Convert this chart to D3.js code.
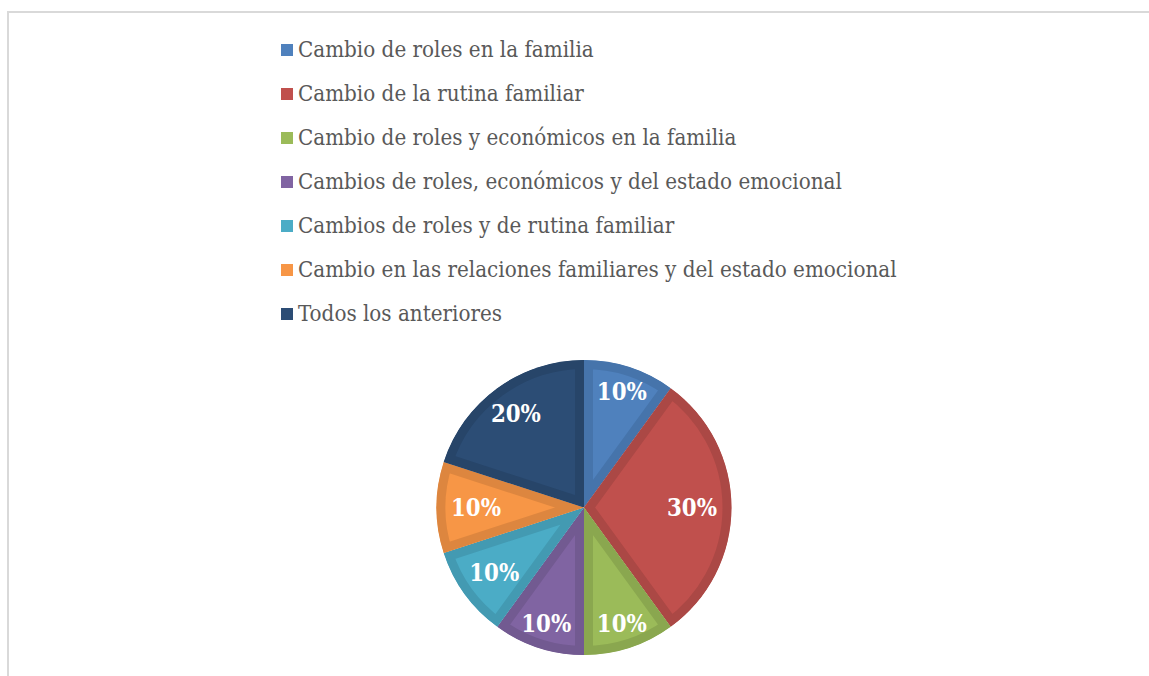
<!DOCTYPE html>
<html><head><meta charset="utf-8">
<script src="https://cdn.jsdelivr.net/npm/d3@7"></script>
<style>body{margin:0;background:#fff}svg{display:block}</style>
</head><body>
<svg id="c" width="1149" height="676"></svg>
<script>
const categories = [
  "Cambio de roles en la familia",
  "Cambio de la rutina familiar",
  "Cambio de roles y económicos en la familia",
  "Cambios de roles, económicos y del estado emocional",
  "Cambios de roles y de rutina familiar",
  "Cambio en las relaciones familiares y del estado emocional",
  "Todos los anteriores"
];
const values = [10, 30, 10, 10, 10, 10, 20];
const valueLabels = ["10%", "30%", "10%", "10%", "10%", "10%", "20%"];
const fillColors = ["#4f81bd", "#c0504d", "#9bbb59", "#8064a2", "#4bacc6", "#f79646", "#2c4d75"];
const bandColors = ["#4674ab", "#ab4845", "#8aa74f", "#725a91", "#439ab2", "#dd863f", "#274569"];

const svg = d3.select("#c");
const W = 1149, H = 676;

// outer frame
svg.append("line").attr("x1", 8).attr("y1", 12).attr("x2", W).attr("y2", 12)
  .attr("stroke", "#d9d9d9").attr("stroke-width", 2);
svg.append("line").attr("x1", 8).attr("y1", 11).attr("x2", 8).attr("y2", H)
  .attr("stroke", "#d9d9d9").attr("stroke-width", 2);

const serif = "'DejaVu Serif Condensed', 'DejaVu Serif', 'Liberation Serif', serif";

// legend
const legX = 281, legY0 = 50, legStep = 44;
const legend = svg.append("g");
const probe = svg.append("text").attr("font-family", serif).attr("font-size", 20)
  .text(categories.reduce((a, b) => a.length > b.length ? a : b));
const probeW = probe.node().getComputedTextLength();
probe.remove();
const legFont = 20 * 599 / probeW;

categories.forEach((c, i) => {
  const y = legY0 + i * legStep;
  legend.append("rect").attr("x", legX).attr("y", y - 6).attr("width", 12).attr("height", 12)
    .attr("fill", fillColors[i]);
  legend.append("text").attr("x", legX + 17).attr("y", y + 7)
    .attr("font-family", serif).attr("font-size", legFont).attr("fill", "#595959")
    .text(c);
});

// pie
const cx = 584, cy = 507.5, R = 147.5;
const pie = d3.pie().sort(null).value(d => d);
const arcs = pie(values);
const arc = d3.arc().innerRadius(0).outerRadius(R);
const g = svg.append("g").attr("transform", `translate(${cx},${cy})`);
const defs = svg.append("defs");

arcs.forEach((a, i) => {
  const id = "clip" + i;
  defs.append("clipPath").attr("id", id).append("path").attr("d", arc(a));
  g.append("path").attr("d", arc(a))
    .attr("fill", fillColors[i])
    .attr("stroke", bandColors[i]).attr("stroke-width", 18)
    .attr("stroke-linejoin", "miter")
    .attr("clip-path", `url(#${id})`);
});

// labels
const lp = svg.append("text").attr("font-family", serif).attr("font-weight", "bold").attr("font-size", 20).text("10%");
const lpW = lp.node().getComputedTextLength();
lp.remove();
const labFont = 20 * 50 / lpW;

arcs.forEach((a, i) => {
  const ang = (a.startAngle + a.endAngle) / 2;
  const t = g.append("text")
    .attr("font-family", serif).attr("font-weight", "bold").attr("font-size", labFont)
    .attr("fill", "#ffffff").attr("text-anchor", "middle")
    .text(valueLabels[i]);
  const hw = t.node().getComputedTextLength() / 2;
  const r = R - 14.5 - hw * Math.abs(Math.sin(ang)) - 3 * Math.abs(Math.cos(ang));
  t.attr("x", r * Math.sin(ang)).attr("y", -r * Math.cos(ang)).attr("dy", "0.36em");
});
</script>
</body></html>
